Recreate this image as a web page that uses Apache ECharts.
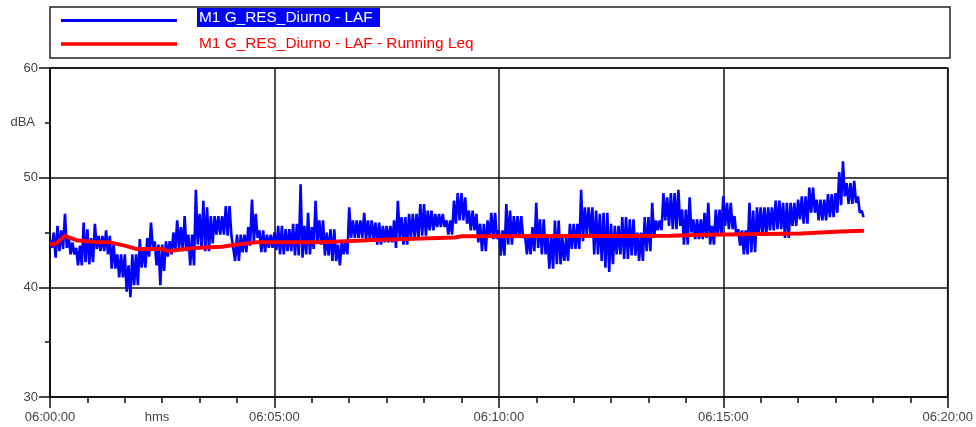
<!DOCTYPE html>
<html>
<head>
<meta charset="utf-8">
<title>M1 G_RES_Diurno - LAF</title>
<script src="https://cdn.jsdelivr.net/npm/echarts@6/dist/echarts.min.js"></script>
<style>
  html, body { margin: 0; padding: 0; background: #fff; }
  #chart { width: 976px; height: 427px; }
</style>
</head>
<body>
<div id="chart"></div>
<script>
// Seconds after 06:00:00 covered by one LAF block
const SAMPLE_STEP = 5;

// LAF (dBA): highest level reached in each 5 s block, from 06:00:00
const lafHigh = [
  44.3, 45.0, 45.6, 45.2, 46.7, 44.6, 44.1, 43.6, 43.8, 45.9,
  45.3, 44.5, 45.8, 44.7, 44.7, 45.2, 44.7, 44.0, 43.0, 43.0,
  43.0, 42.0, 43.0, 43.0, 44.4, 43.5, 44.5, 45.9, 44.2, 43.9,
  43.9, 44.2, 44.2, 45.0, 46.1, 45.5, 46.5, 44.8, 44.8, 48.9,
  46.7, 47.9, 47.3, 46.5, 46.5, 46.5, 46.5, 47.4, 47.4, 44.8,
  44.8, 44.8, 44.8, 45.5, 48.0, 46.7, 45.2, 45.2, 44.8, 44.8,
  45.0, 45.6, 45.6, 45.3, 45.3, 45.8, 45.8, 49.4, 45.6, 46.8,
  45.5, 47.9, 46.1, 46.1, 45.0, 45.3, 45.3, 43.9, 44.2, 44.2,
  47.3, 46.1, 46.1, 46.1, 46.8, 46.1, 46.1, 45.9, 45.9, 45.6,
  45.6, 45.6, 46.1, 47.9, 46.4, 46.4, 46.7, 46.7, 46.7, 47.6,
  47.6, 47.0, 47.0, 46.7, 46.7, 46.7, 46.1, 46.1, 47.9, 48.6,
  48.6, 48.2, 47.0, 47.0, 46.7, 45.8, 45.8, 46.1, 46.8, 46.8,
  45.2, 45.2, 47.6, 47.0, 46.5, 46.5, 46.5, 44.8, 44.8, 45.5,
  47.7, 46.2, 46.2, 44.8, 44.8, 46.1, 46.1, 44.5, 44.5, 45.8,
  45.8, 45.8, 48.9, 47.3, 47.3, 47.3, 47.0, 46.7, 46.8, 46.8,
  45.8, 45.6, 45.6, 46.4, 46.4, 46.2, 46.2, 45.0, 45.0, 46.4,
  46.4, 47.7, 46.1, 46.1, 48.6, 48.2, 48.6, 48.6, 48.9, 47.1,
  47.1, 48.2, 46.2, 46.2, 46.2, 46.8, 47.7, 45.6, 47.1, 47.1,
  48.3, 47.7, 47.7, 46.5, 45.3, 45.2, 45.2, 47.7, 47.0, 47.3,
  47.3, 47.3, 47.3, 47.3, 47.9, 47.9, 47.7, 47.7, 47.7, 47.7,
  48.0, 48.3, 48.3, 49.1, 49.1, 48.0, 48.0, 48.0, 48.5, 48.5,
  48.6, 50.5, 51.5, 49.5, 49.5, 49.7, 48.3, 47.0
];

// LAF (dBA): lowest level reached in each 5 s block, from 06:00:00
const lafLow = [
  43.6, 42.7, 43.3, 43.5, 43.6, 43.0, 43.0, 42.0, 42.0, 42.3,
  42.1, 42.3, 43.5, 43.3, 43.3, 43.0, 41.7, 41.7, 40.9, 40.9,
  39.6, 39.1, 40.2, 40.2, 41.8, 41.8, 42.8, 43.6, 42.0, 40.2,
  41.5, 42.8, 43.0, 43.3, 43.6, 43.3, 43.3, 42.0, 42.0, 43.9,
  43.6, 43.3, 43.3, 44.0, 44.8, 44.8, 44.8, 44.7, 44.7, 42.4,
  42.4, 43.2, 43.2, 43.8, 44.2, 44.5, 43.2, 43.2, 43.6, 43.6,
  43.4, 43.0, 43.0, 43.3, 43.3, 42.9, 42.9, 42.7, 43.0, 43.0,
  43.5, 44.2, 43.9, 42.9, 42.9, 42.4, 42.4, 42.0, 43.0, 43.0,
  44.5, 44.5, 44.5, 44.5, 44.4, 44.4, 44.4, 43.9, 43.9, 44.1,
  44.1, 44.1, 43.6, 44.5, 43.9, 43.9, 44.5, 44.5, 44.5, 44.7,
  44.7, 45.2, 45.2, 45.5, 45.5, 45.5, 44.8, 44.8, 45.8, 46.1,
  46.1, 45.8, 45.2, 45.2, 44.1, 43.3, 43.3, 44.5, 44.4, 44.4,
  42.9, 42.9, 43.9, 43.9, 44.5, 44.5, 44.5, 43.0, 43.0, 43.3,
  43.6, 43.0, 43.0, 41.7, 41.7, 42.1, 42.1, 42.4, 42.4, 43.5,
  43.5, 43.5, 44.2, 44.8, 44.8, 43.0, 43.0, 42.4, 41.8, 41.4,
  42.1, 43.0, 43.0, 42.6, 42.6, 42.9, 42.9, 42.4, 42.4, 43.3,
  43.3, 44.5, 45.2, 45.2, 46.1, 45.6, 45.3, 45.3, 45.6, 43.9,
  43.9, 45.0, 44.4, 44.4, 44.4, 44.5, 43.9, 43.9, 44.7, 44.7,
  45.6, 45.3, 45.3, 44.7, 43.8, 43.0, 43.0, 43.2, 43.2, 44.8,
  44.8, 44.8, 45.2, 45.2, 45.3, 45.3, 44.5, 44.5, 45.6, 45.6,
  46.2, 45.8, 45.8, 46.8, 46.8, 46.1, 46.1, 46.1, 46.4, 46.4,
  46.8, 47.5, 48.3, 47.6, 47.6, 47.7, 46.8, 46.4
];

// Running Leq: seconds after 06:00:00 and level (dBA)
const leqTimes = [
  0, 8, 20, 35, 64, 80, 100, 115, 150, 157, 180, 198, 230, 250, 275,
  363, 394, 425, 496, 541, 550, 830, 877, 1004, 1057, 1088
];
const leqValues = [
  43.9, 44.0, 44.7, 44.3, 44.1, 44.1, 43.8, 43.5, 43.5, 43.3, 43.5, 43.6, 43.7, 43.9, 44.1,
  44.1, 44.2, 44.3, 44.45, 44.55, 44.65, 44.7, 44.8, 44.9, 45.1, 45.15
];

// Axis ranges and tick steps
const xRange = [0, 1200];   // seconds after 06:00:00
const xStep = 300;
const yRange = [30, 60];    // dBA
const yStep = 10;

const seriesNames = ['M1 G_RES_Diurno - LAF', 'M1 G_RES_Diurno - LAF - Running Leq'];

// Each block contributes its peak followed by its dip, so the trace swings
// across the full spread of the fast-weighted level.
const lafData = [];
lafHigh.forEach((hi, i) => {
  lafData.push([i * SAMPLE_STEP, hi]);
  lafData.push([i * SAMPLE_STEP + SAMPLE_STEP / 2, lafLow[i]]);
});
const leqData = leqTimes.map((t, i) => [t, leqValues[i]]);

function clock(sec) {
  const total = 6 * 3600 + sec;
  const h = Math.floor(total / 3600);
  const m = Math.floor((total % 3600) / 60);
  const s = Math.round(total % 60);
  const p = n => String(n).padStart(2, '0');
  return p(h) + ':' + p(m) + ':' + p(s);
}

const FONT = 'Liberation Sans, Arial, sans-serif';
const chart = echarts.init(document.getElementById('chart'), null, { renderer: 'canvas' });

chart.setOption({
  animation: false,
  backgroundColor: '#fff',
  grid: {
    left: 50, right: 27, top: 68, bottom: 30,
    show: true, borderColor: '#111', borderWidth: 1.5, backgroundColor: 'transparent'
  },
  xAxis: {
    type: 'value',
    min: xRange[0], max: xRange[1], interval: xStep,
    axisLine: { show: true, lineStyle: { color: '#111', width: 1.5 } },
    axisTick: { show: true, length: 11, lineStyle: { color: '#111', width: 1.5 } },
    minorTick: { show: true, splitNumber: 6, length: 6, lineStyle: { color: '#111', width: 1.5 } },
    splitLine: { show: true, lineStyle: { color: '#111', width: 1.5 } },
    axisLabel: {
      formatter: clock, color: '#444', fontFamily: FONT, fontSize: 13, margin: 14,
      showMinLabel: true, showMaxLabel: true
    }
  },
  yAxis: {
    type: 'value',
    min: yRange[0], max: yRange[1], interval: yStep,
    axisLine: { show: true, lineStyle: { color: '#111', width: 1.5 } },
    axisTick: { show: true, length: 11, lineStyle: { color: '#111', width: 1.5 } },
    minorTick: { show: true, splitNumber: 2, length: 5, lineStyle: { color: '#111', width: 1.5 } },
    splitLine: { show: true, lineStyle: { color: '#111', width: 1.5 } },
    axisLabel: { color: '#444', fontFamily: FONT, fontSize: 13, margin: 12 }
  },
  series: [
    {
      name: seriesNames[0], type: 'line', data: lafData,
      showSymbol: false, symbol: 'none', z: 3,
      lineStyle: { color: '#0000ff', width: 2.6 }
    },
    {
      name: seriesNames[1], type: 'line', data: leqData,
      showSymbol: false, symbol: 'none', z: 4,
      lineStyle: { color: '#ff0000', width: 4 }
    }
  ],
  graphic: [
    // legend frame
    { type: 'rect', shape: { x: 50, y: 7, width: 900, height: 51 },
      style: { fill: 'none', stroke: '#222', lineWidth: 1.5 }, z: 10 },
    { type: 'line', shape: { x1: 61, y1: 20.5, x2: 177, y2: 20.5 },
      style: { stroke: '#0000ff', lineWidth: 3 }, z: 10 },
    { type: 'line', shape: { x1: 61, y1: 44, x2: 177, y2: 44 },
      style: { stroke: '#ff0000', lineWidth: 3.5 }, z: 10 },
    { type: 'rect', shape: { x: 197, y: 8, width: 183, height: 19 },
      style: { fill: '#0000ff' }, z: 10 },
    { type: 'text', x: 199, y: 17.5,
      style: { text: seriesNames[0], fill: '#fff', font: '15.4px ' + FONT, verticalAlign: 'middle' }, z: 11 },
    { type: 'text', x: 199, y: 44,
      style: { text: seriesNames[1], fill: '#ff0000', font: '15.4px ' + FONT, verticalAlign: 'middle' }, z: 11 },
    // axis unit captions
    { type: 'text', x: 35, y: 122,
      style: { text: 'dBA', fill: '#444', font: '13px ' + FONT, align: 'right', verticalAlign: 'middle' } },
    { type: 'text', x: 157, y: 417,
      style: { text: 'hms', fill: '#444', font: '13px ' + FONT, align: 'center', verticalAlign: 'middle' } },
    { type: 'text', x: 911, y: -6,
      style: { text: '( )', fill: '#bbb', font: '12px ' + FONT, align: 'center', verticalAlign: 'middle' } }
  ]
});
</script>
</body>
</html>
